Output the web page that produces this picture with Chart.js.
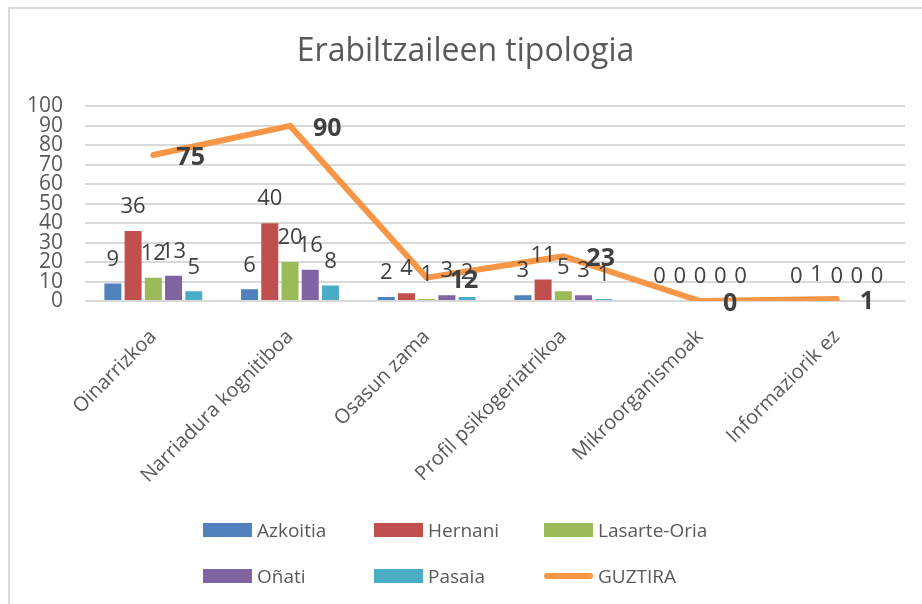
<!DOCTYPE html>
<html>
<head>
<meta charset="utf-8">
<script src="https://cdn.jsdelivr.net/npm/chart.js@4.4.1/dist/chart.umd.min.js"></script>
<style>
  body { margin: 0; background: #fff; width: 922px; height: 604px; overflow: hidden; position: relative; }
  #frame { position: absolute; left: 8px; top: 7px; width: 940px; height: 640px; border: 2px solid #d9d9d9; box-sizing: border-box; }
  #chart { position: absolute; left: 0; top: 0; }
  .legend-item { position: absolute; font-family: 'Open Sans', sans-serif; font-size: 19px; color: #595959; display: flex; align-items: center; white-space: nowrap; }
  .legend-item .swatch { width: 49px; height: 14px; margin-right: 5px; }
  .legend-item .swatch.line { height: 6px; border-radius: 3px; }
</style>
</head>
<body>
<div id="frame"></div>
<canvas id="chart" width="922" height="604"></canvas>
<div id="legend"></div>
<script>
// Erabiltzaileen tipologia - bars per town + total line

const categories = ['Oinarrizkoa', 'Narriadura kognitiboa', 'Osasun zama', 'Profil psikogeriatrikoa', 'Mikroorganismoak', 'Informaziorik ez'];

const azkoitia = [9, 6, 2, 3, 0, 0];
const hernani = [36, 40, 4, 11, 0, 1];
const lasarteOria = [12, 20, 1, 5, 0, 0];
const onati = [13, 16, 3, 3, 0, 0];
const pasaia = [5, 8, 2, 1, 0, 0];
const guztira = [75, 90, 12, 23, 0, 1];

const barSeries = [
  { label: 'Azkoitia', data: azkoitia, color: '#4F81BD' },
  { label: 'Hernani', data: hernani, color: '#C0504D' },
  { label: 'Lasarte-Oria', data: lasarteOria, color: '#9BBB59' },
  { label: 'Oñati', data: onati, color: '#8064A2' },
  { label: 'Pasaia', data: pasaia, color: '#4BACC6' }
];
const lineColor = '#F79646';
const textColor = '#595959';
const labelColor = '#404040';
const fontFamily = "'Open Sans', sans-serif";

// value labels above bars, bold labels right of the line points
const valueLabels = {
  id: 'valueLabels',
  afterDatasetsDraw(chart) {
    const ctx = chart.ctx;
    ctx.save();
    ctx.fillStyle = labelColor;
    chart.data.datasets.forEach((ds, i) => {
      const meta = chart.getDatasetMeta(i);
      meta.data.forEach((el, j) => {
        const v = ds.data[j];
        if (ds.type === 'line') {
          ctx.font = 'bold 25px ' + fontFamily;
          ctx.textAlign = 'left';
          ctx.textBaseline = 'middle';
          ctx.fillText(v, el.x + 23, el.y + 3);
        } else {
          ctx.font = '22px ' + fontFamily;
          ctx.textAlign = 'center';
          ctx.textBaseline = 'middle';
          ctx.fillText(v, el.x, el.y - 24);
        }
      });
    });
    ctx.restore();
  }
};

const datasets = barSeries.map(s => ({
  type: 'bar',
  label: s.label,
  data: s.data,
  backgroundColor: s.color,
  borderWidth: 0,
  categoryPercentage: 0.74,
  barPercentage: 0.84,
  order: 1
}));

datasets.push({
  type: 'line',
  label: 'GUZTIRA',
  data: guztira,
  borderColor: lineColor,
  backgroundColor: lineColor,
  borderWidth: 6,
  borderCapStyle: 'round',
  borderJoinStyle: 'round',
  pointRadius: 0,
  tension: 0,
  order: 0
});

new Chart(document.getElementById('chart').getContext('2d'), {
  type: 'bar',
  data: { labels: categories, datasets: datasets },
  options: {
    responsive: false,
    animation: false,
    // left padding nudges the title centre right; y labels still fit in the axis box
    layout: { padding: { left: 26, right: 17, top: 0, bottom: 0 } },
    plugins: {
      legend: { display: false },
      tooltip: { enabled: false },
      title: {
        display: true,
        text: 'Erabiltzaileen tipologia',
        color: textColor,
        font: { family: fontFamily, size: 32, weight: 'normal' },
        padding: { top: 33, bottom: 35 }
      }
    },
    scales: {
      x: {
        grid: { display: false },
        border: { display: false },
        ticks: {
          color: textColor,
          font: { family: fontFamily, size: 20 },
          minRotation: 45,
          maxRotation: 45,
          autoSkip: false,
          padding: 16
        },
        afterFit(scale) { scale.height = 303; }
      },
      y: {
        min: 0,
        max: 100,
        grid: { color: '#d9d9d9', lineWidth: 2, drawTicks: false },
        border: { display: false },
        ticks: {
          stepSize: 10,
          autoSkip: false,
          color: textColor,
          font: { family: fontFamily, size: 21 },
          padding: 22
        },
        afterFit(scale) { scale.width = 59; }
      }
    }
  },
  plugins: [valueLabels]
});

// Legend: two rows of three, laid out like the original
const legendItems = barSeries.map(s => ({ label: s.label, color: s.color, line: false }))
  .concat([{ label: 'GUZTIRA', color: lineColor, line: true }]);
const legendCols = [203, 374, 544];
const legendRows = [530, 576];
const legendEl = document.getElementById('legend');
legendItems.forEach((item, i) => {
  const div = document.createElement('div');
  div.className = 'legend-item';
  div.style.left = legendCols[i % 3] + 'px';
  div.style.top = (legendRows[Math.floor(i / 3)] - 14) + 'px';
  div.style.height = '28px';
  const sw = document.createElement('span');
  sw.className = 'swatch' + (item.line ? ' line' : '');
  sw.style.background = item.color;
  const tx = document.createElement('span');
  tx.textContent = item.label;
  div.appendChild(sw);
  div.appendChild(tx);
  legendEl.appendChild(div);
});
</script>
</body>
</html>
